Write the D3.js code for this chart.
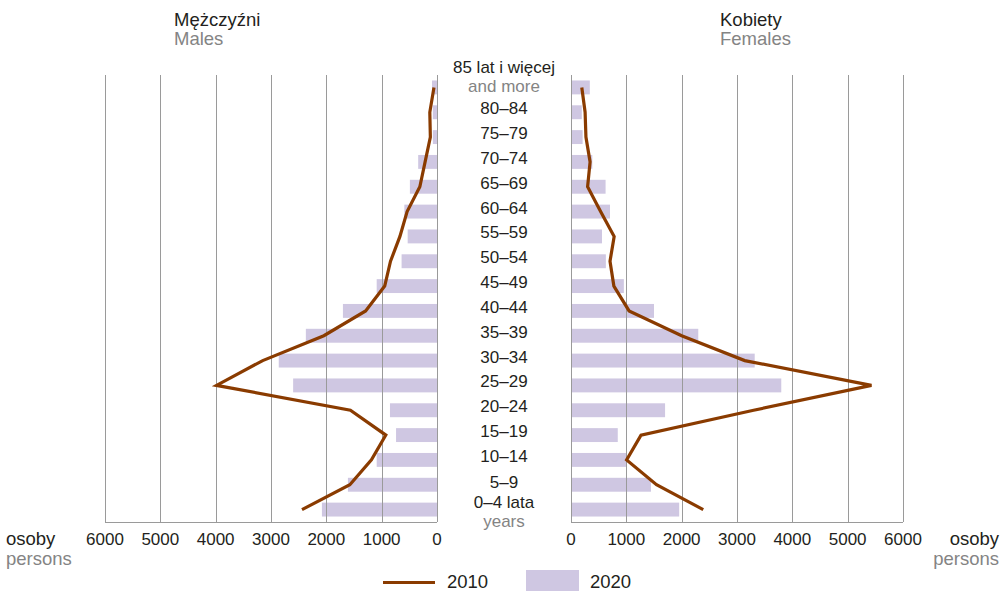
<!DOCTYPE html>
<html>
<head>
<meta charset="utf-8">
<script src="https://cdn.jsdelivr.net/npm/d3@7"></script>
<style>
  body { margin: 0; background: #fff; }
  svg { display: block; font-family: "Liberation Sans", Arial, sans-serif; }
</style>
</head>
<body>
<svg id="chart" width="1007" height="591"></svg>
<script>
// age groups, top to bottom
const ageGroups = ['85+', '80–84', '75–79', '70–74', '65–69', '60–64', '55–59', '50–54', '45–49',
  '40–44', '35–39', '30–34', '25–29', '20–24', '15–19', '10–14', '5–9', '0–4'];

// 2020 bars
const males2020 = [90, 75, 75, 340, 490, 590, 530, 640, 1090,
  1700, 2370, 2860, 2600, 850, 740, 1090, 1610, 2080];
const females2020 = [340, 195, 210, 385, 625, 705, 560, 630, 955,
  1500, 2300, 3320, 3800, 1700, 845, 1005, 1445, 1955];

// 2010 line
const males2010 = [55, 130, 120, 215, 310, 540, 670, 840, 945,
  1290, 2045, 3150, 3985, 1565, 925, 1185, 1575, 2440];
const females2010 = [195, 255, 270, 345, 300, 535, 780, 705, 775,
  1050, 2000, 3140, 5430, 3300, 1265, 1005, 1545, 2390];

const ticks = [0, 1000, 2000, 3000, 4000, 5000, 6000];

const svg = d3.select('#chart');
const black = '#231f20', grey = '#848484';
const barColor = '#cfc7e2', lineColor = '#8a3b00', gridColor = '#9a9a9a';

const plotTop = 75, plotBottom = 522;
const y = d3.scaleBand().domain(ageGroups).range([plotTop, plotBottom])
  .paddingInner(0.44).paddingOuter(0.22);
const yc = d => y(d) + y.bandwidth() / 2;

const xL = d3.scaleLinear().domain([0, 6000]).range([437, 105]);
const xR = d3.scaleLinear().domain([0, 6000]).range([571, 903]);

// bars
svg.append('g').selectAll('rect').data(ageGroups).join('rect')
  .attr('x', (d, i) => xL(males2020[i]))
  .attr('y', d => y(d))
  .attr('width', (d, i) => xL(0) - xL(males2020[i]))
  .attr('height', y.bandwidth())
  .attr('fill', barColor);

svg.append('g').selectAll('rect').data(ageGroups).join('rect')
  .attr('x', xR(0))
  .attr('y', d => y(d))
  .attr('width', (d, i) => xR(females2020[i]) - xR(0))
  .attr('height', y.bandwidth())
  .attr('fill', barColor);

// grid + axes
function side(x) {
  const g = svg.append('g');
  g.selectAll('line.grid').data(ticks).join('line')
    .attr('class', 'grid')
    .attr('x1', d => Math.round(x(d)) + 0.5).attr('x2', d => Math.round(x(d)) + 0.5)
    .attr('y1', plotTop).attr('y2', plotBottom)
    .attr('stroke', gridColor).attr('stroke-width', 1);
  g.append('line')
    .attr('x1', x(0)).attr('x2', x(6000))
    .attr('y1', plotBottom + 0.5).attr('y2', plotBottom + 0.5)
    .attr('stroke', gridColor);
  g.selectAll('text').data(ticks).join('text')
    .attr('x', d => x(d)).attr('y', 545)
    .attr('text-anchor', 'middle')
    .attr('font-size', 17).attr('fill', black)
    .text(d => d);
}
side(xL);
side(xR);

// 2010 lines
const lineL = d3.line().x(d => xL(d)).y((d, i) => yc(ageGroups[i]));
const lineR = d3.line().x(d => xR(d)).y((d, i) => yc(ageGroups[i]));
svg.append('path').datum(males2010).attr('d', lineL)
  .attr('fill', 'none').attr('stroke', lineColor).attr('stroke-width', 3.2)
  .attr('stroke-linejoin', 'miter');
svg.append('path').datum(females2010).attr('d', lineR)
  .attr('fill', 'none').attr('stroke', lineColor).attr('stroke-width', 3.2)
  .attr('stroke-linejoin', 'miter');

// age labels in the middle
const cx = 504;
const lab = svg.append('g').attr('font-size', 17).attr('text-anchor', 'middle');
ageGroups.forEach(a => {
  if (a === '85+') {
    lab.append('text').attr('x', cx).attr('y', yc(a) - 14).attr('fill', black).text('85 lat i więcej');
    lab.append('text').attr('x', cx).attr('y', yc(a) + 5).attr('fill', grey).text('and more');
  } else if (a === '0–4') {
    lab.append('text').attr('x', cx).attr('y', yc(a) - 2).attr('fill', black).text('0–4 lata');
    lab.append('text').attr('x', cx).attr('y', yc(a) + 17).attr('fill', grey).text('years');
  } else if (a === '5–9') {
    lab.append('text').attr('x', cx).attr('y', yc(a) + 3).attr('fill', black).text(a);
  } else {
    lab.append('text').attr('x', cx).attr('y', yc(a) + 2).attr('fill', black).text(a);
  }
});

// titles
const t = svg.append('g').attr('font-size', 18.5);
t.append('text').attr('x', 174).attr('y', 26).attr('fill', black).text('Mężczyźni');
t.append('text').attr('x', 174).attr('y', 45).attr('fill', grey).text('Males');
t.append('text').attr('x', 720).attr('y', 26).attr('fill', black).text('Kobiety');
t.append('text').attr('x', 720).attr('y', 45).attr('fill', grey).text('Females');

// unit labels
t.append('text').attr('x', 6).attr('y', 545).attr('fill', black).text('osoby');
t.append('text').attr('x', 6).attr('y', 565).attr('fill', grey).text('persons');
t.append('text').attr('x', 999).attr('y', 545).attr('text-anchor', 'end').attr('fill', black).text('osoby');
t.append('text').attr('x', 999).attr('y', 565).attr('text-anchor', 'end').attr('fill', grey).text('persons');

// legend
const leg = svg.append('g').attr('font-size', 18.5).attr('fill', black);
leg.append('line').attr('x1', 383).attr('x2', 435).attr('y1', 582.5).attr('y2', 582.5)
  .attr('stroke', lineColor).attr('stroke-width', 3.2);
leg.append('text').attr('x', 447).attr('y', 588).text('2010');
leg.append('rect').attr('x', 526).attr('y', 570).attr('width', 53).attr('height', 22).attr('fill', barColor);
leg.append('text').attr('x', 590).attr('y', 588).text('2020');
</script>
</body>
</html>
